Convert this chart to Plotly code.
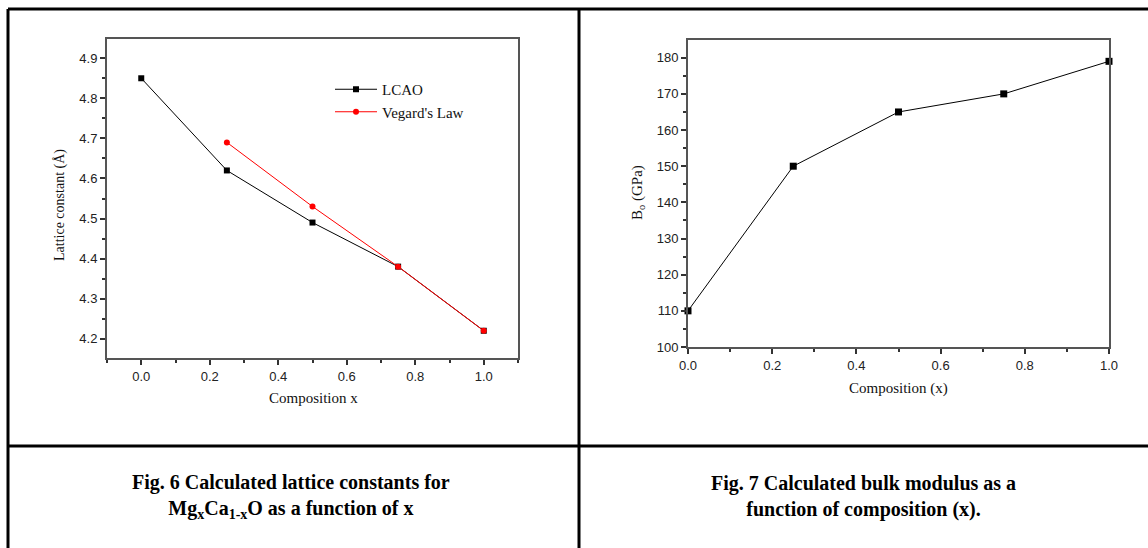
import plotly.graph_objects as go

W, H = 1148, 548

# ---- data ----
lcao_x = [0.0, 0.25, 0.5, 0.75, 1.0]
lcao_y = [4.85, 4.62, 4.49, 4.38, 4.22]
veg_x = [0.25, 0.5, 0.75, 1.0]
veg_y = [4.69, 4.53, 4.38, 4.22]
bulk_x = [0.0, 0.25, 0.5, 0.75, 1.0]
bulk_y = [110, 150, 165, 170, 179]

SERIF = "Liberation Serif"
SANS = "Liberation Sans"


def px(x):
    return x / W


def py(y):
    return 1 - y / H


fig = go.Figure()
fig.add_trace(go.Scatter(x=lcao_x, y=lcao_y, mode="lines+markers", name="LCAO",
                         line=dict(color="black", width=1),
                         marker=dict(symbol="square", size=6, color="black"),
                         xaxis="x", yaxis="y"))
fig.add_trace(go.Scatter(x=veg_x, y=veg_y, mode="lines+markers", name="Vegard's Law",
                         line=dict(color="red", width=1),
                         marker=dict(symbol="circle", size=6, color="red"),
                         xaxis="x", yaxis="y"))
fig.add_trace(go.Scatter(x=bulk_x, y=bulk_y, mode="lines+markers", name="Bo",
                         line=dict(color="black", width=1),
                         marker=dict(symbol="square", size=7, color="black"),
                         showlegend=False, cliponaxis=False,
                         xaxis="x2", yaxis="y2"))

axcommon = dict(showgrid=False, zeroline=False, showline=True, mirror=True,
                linecolor="#555", linewidth=2, ticks="outside", ticklen=5,
                tickwidth=1.5, tickcolor="#333",
                tickfont=dict(family=SANS, size=13, color="#222"),
                automargin=False)

fig.update_layout(
    width=W, height=H, margin=dict(l=0, r=0, t=0, b=0),
    paper_bgcolor="white", plot_bgcolor="white",
    xaxis=dict(domain=[px(107), px(518)], range=[-0.1, 1.1], dtick=0.2, tick0=0,
               tickformat=".1f",
               minor=dict(ticks="outside", ticklen=3, dtick=0.1, tick0=0, tickcolor="#333"),
               anchor="y", **axcommon),
    yaxis=dict(domain=[py(358), py(39)], range=[4.152, 4.948], dtick=0.1, tick0=4.2,
               tickformat=".1f",
               minor=dict(ticks="outside", ticklen=3, dtick=0.05, tick0=4.2, tickcolor="#333"),
               anchor="x", **axcommon),
    xaxis2=dict(domain=[px(688), px(1109)], range=[0, 1.0], dtick=0.2, tick0=0,
                tickformat=".1f",
                minor=dict(ticks="outside", ticklen=3, dtick=0.1, tick0=0, tickcolor="#333"),
                anchor="y2", **axcommon),
    yaxis2=dict(domain=[py(347), py(40)], range=[100, 184.9], dtick=10, tick0=100,
                minor=dict(ticks="outside", ticklen=3, dtick=5, tick0=100, tickcolor="#333"),
                anchor="x2", **axcommon),
    legend=dict(x=px(330), y=py(73), xanchor="left", yanchor="top",
                bgcolor="rgba(0,0,0,0)", font=dict(family=SERIF, size=15, color="#111"),
                tracegroupgap=0, itemwidth=42, entrywidth=0),
    showlegend=True,
)

annos = [
    dict(x=px(60), y=py(205), text="Lattice constant (Å)", textangle=-90,
         font=dict(family=SERIF, size=14, color="#111")),
    dict(x=px(314), y=py(398), text="Composition x",
         font=dict(family=SERIF, size=15, color="#111")),
    dict(x=px(638), y=py(193), text="B<sub>o</sub> (GPa)", textangle=-90,
         font=dict(family=SERIF, size=15, color="#111")),
    dict(x=px(898), y=py(388), text="Composition (x)",
         font=dict(family=SERIF, size=15, color="#111")),
    dict(x=px(291), y=py(496),
         text="<b>Fig. 6 Calculated lattice constants for<br>Mg<sub>x</sub>Ca<sub>1-x</sub>O as a function of x</b>",
         font=dict(family=SERIF, size=20, color="black")),
    dict(x=px(863), y=py(496),
         text="<b>Fig. 7 Calculated bulk modulus as a<br>function of composition (x).</b>",
         font=dict(family=SERIF, size=20, color="black")),
]
for a in annos:
    a.update(xref="paper", yref="paper", showarrow=False, xanchor="center", yanchor="middle")
    fig.add_annotation(**a)

# table borders
lines = [
    (8, 9, W, 9),       # top
    (8, 9, 8, H),       # left
    (579, 9, 579, H),   # middle vertical
    (8, 446, W, 446),   # horizontal divider
]
for x0, y0, x1, y1 in lines:
    fig.add_shape(type="line", xref="paper", yref="paper",
                  x0=px(x0), y0=py(y0), x1=px(x1), y1=py(y1),
                  line=dict(color="black", width=3))

fig.write_html("out.html")
